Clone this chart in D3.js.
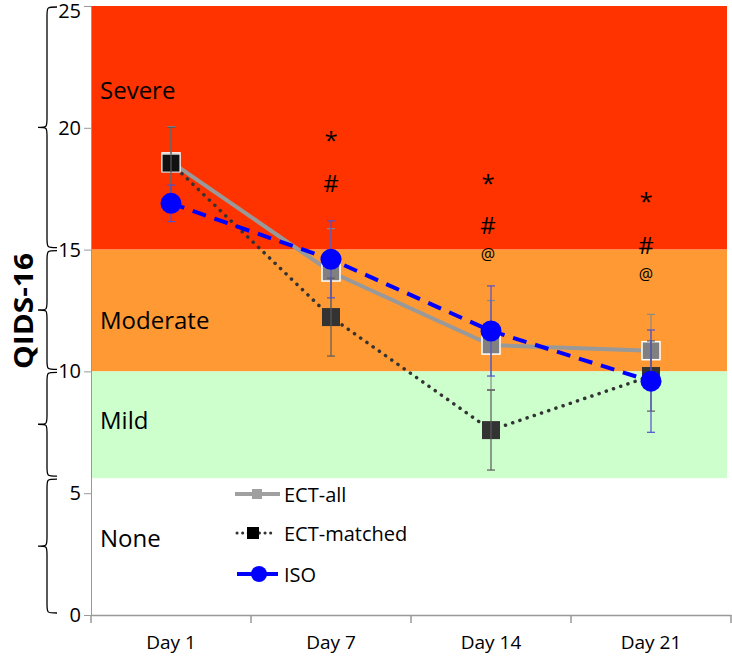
<!DOCTYPE html>
<html><head><meta charset="utf-8">
<script src="https://cdn.jsdelivr.net/npm/d3@7"></script>
<style>body{margin:0;background:#fff}svg{display:block}text{font-family:"Open Sans","Noto Sans",sans-serif}</style>
</head><body><svg id="c" width="732" height="659"></svg>
<script>
const days = ["Day 1", "Day 7", "Day 14", "Day 21"];
const yTicks = [0, 5, 10, 15, 20, 25];
const ectAll = [18.6, 14.08, 11.08, 10.85];
const ectAllErr = [1.45, 1.78, 1.83, 1.49];
const ectMatched = [18.55, 12.23, 7.59, 9.81];
const ectMatchedErr = [1.47, 1.6, 1.64, 1.44];
const iso = [16.9, 14.6, 11.66, 9.6];
const isoErr = [0.75, 1.58, 1.85, 2.1];
const bandNames = ["Severe", "Moderate", "Mild", "None"];
const bandTops = [25, 15, 10, 5.62];
const bandBottoms = [15, 10, 5.62, 0];
const bandColors = ["#ff3300", "#ff9933", "#ccffcc", "none"];
const annotDays = ["Day 7", "Day 7", "Day 14", "Day 14", "Day 14", "Day 21", "Day 21", "Day 21"];
const annotSymbols = ["*", "#", "*", "#", "@", "*", "#", "@"];
const annotValues = [19.5, 17.75, 17.75, 16.05, 14.8, 17.0, 15.2, 14.0];
const annotOffsets = [0, 0, -3, -3, -3, -5, -5, -5];

const svg = d3.select("#c");
const x = d3.scaleBand().domain(days).range([91, 731]);
const y = d3.scaleLinear().domain([0, 25]).range([615, 6]);
const cx = d => x(d) + x.bandwidth() / 2;

// bands
bandNames.forEach((n, i) => {
  if (bandColors[i] !== "none")
    svg.append("rect").attr("x", 91).attr("width", 727 - 91)
      .attr("y", y(bandTops[i])).attr("height", y(bandBottoms[i]) - y(bandTops[i]))
      .attr("fill", bandColors[i]);
});
const labelVals = [21.2, 11.75, 7.65, 2.78];
bandNames.forEach((n, i) => {
  svg.append("text").attr("x", 100).attr("y", y(labelVals[i])).attr("font-size", 24).attr("fill", "#000").text(n);
});

// braces
function brace(y1, y2) {
  const xr = 57, xm = 47, xt = 38, r = 9, ym = (y1 + y2) / 2;
  return `M${xr},${y1} C${xm},${y1} ${xm},${y1} ${xm},${y1 + r} L${xm},${ym - r} C${xm},${ym} ${xm},${ym} ${xt},${ym} C${xm},${ym} ${xm},${ym} ${xm},${ym + r} L${xm},${y2 - r} C${xm},${y2} ${xm},${y2} ${xr},${y2}`;
}
bandNames.forEach((n, i) => {
  svg.append("path").attr("d", brace(y(bandTops[i]) + 1, y(bandBottoms[i]) - 2))
    .attr("fill", "none").attr("stroke", "#000").attr("stroke-width", 1.3);
});

// axes
const yAx = svg.append("g").attr("transform", "translate(91,0)")
  .call(d3.axisLeft(y).tickValues(yTicks).tickSize(7).tickPadding(3));
yAx.select(".domain").attr("stroke", "#999");
yAx.selectAll(".tick line").attr("stroke", "#999");
yAx.selectAll("text").attr("font-size", 20).attr("fill", "#000")
  .attr("dy", d => d === 25 ? "0.55em" : "0.32em");
const xAx = svg.append("g").attr("transform", "translate(0,615)")
  .call(d3.axisBottom(x).tickSize(0).tickPadding(21));
xAx.select(".domain").attr("stroke", "#999").attr("stroke-width", 1.5);
xAx.selectAll("text").attr("font-size", 19).attr("fill", "#000");
[0, 1, 2, 3, 4].forEach(i => {
  const xx = 91 + i * x.step();
  svg.append("line").attr("x1", xx).attr("x2", xx).attr("y1", 615).attr("y2", 623).attr("stroke", "#999").attr("stroke-width", 1.5);
});
svg.append("text").attr("transform", `translate(33,311) rotate(-90)`).attr("text-anchor", "middle")
  .attr("font-size", 26).attr("font-weight", "bold").attr("textLength", 116).attr("lengthAdjust", "spacingAndGlyphs").text("QIDS-16");

// lines
const line = d3.line().x((d, i) => cx(days[i])).y(d => y(d));
svg.append("path").datum(ectAll).attr("d", line).attr("fill", "none").attr("stroke", "#999").attr("stroke-width", 4);
svg.append("path").datum(ectMatched).attr("d", line).attr("fill", "none").attr("stroke", "#333")
  .attr("stroke-width", 3.5).attr("stroke-linecap", "round").attr("stroke-dasharray", "0.1 7.5");
svg.append("path").datum(iso).attr("d", line).attr("fill", "none").attr("stroke", "#0000ff")
  .attr("stroke-width", 4).attr("stroke-dasharray", "14 9");

// markers squares
svg.selectAll(".sqa").data(ectAll).join("rect")
  .attr("x", (d, i) => cx(days[i]) - 9).attr("y", d => y(d) - 9).attr("width", 18).attr("height", 18)
  .attr("fill", "#808080").attr("stroke", "#fff").attr("stroke-width", 1.5);

// error bars
function errBars(vals, errs, color) {
  vals.forEach((v, i) => {
    const xx = cx(days[i]);
    const g = svg.append("g").attr("stroke", color).attr("stroke-width", 1.2);
    g.append("line").attr("x1", xx).attr("x2", xx).attr("y1", y(v + errs[i])).attr("y2", y(v - errs[i]));
    [v + errs[i], v - errs[i]].forEach(e => g.append("line").attr("x1", xx - 4).attr("x2", xx + 4).attr("y1", y(e)).attr("y2", y(e)));
  });
}
errBars(ectAll, ectAllErr, "#8a8a8a");

svg.selectAll(".sqm").data(ectMatched).join("rect")
  .attr("x", (d, i) => cx(days[i]) - 9).attr("y", d => y(d) - 9).attr("width", 18).attr("height", 18)
  .attr("fill", (d, i) => i === 0 ? "#111" : "#333").attr("stroke", (d, i) => i === 0 ? "#ddd" : "none").attr("stroke-width", 1.2);
errBars(ectMatched, ectMatchedErr, "#5a5a5a");
errBars(iso, isoErr, "#5050cc");

svg.selectAll(".ci").data(iso).join("circle")
  .attr("cx", (d, i) => cx(days[i])).attr("cy", d => y(d)).attr("r", 10.5).attr("fill", "#0000ff");

// annotations
annotSymbols.forEach((s, i) => {
  svg.append("text").attr("x", cx(annotDays[i]) + annotOffsets[i]).attr("y", y(annotValues[i]))
    .attr("text-anchor", "middle").attr("dominant-baseline", "central")
    .attr("font-size", s === "@" ? 16 : 24).text(s);
});

// legend
const legNames = ["ECT-all", "ECT-matched", "ISO"];
const legY = [494, 533, 574];
svg.append("line").attr("x1", 235).attr("x2", 280).attr("y1", legY[0]).attr("y2", legY[0]).attr("stroke", "#a0a0a0").attr("stroke-width", 4);
svg.append("rect").attr("x", 252).attr("y", legY[0] - 5).attr("width", 10).attr("height", 10).attr("fill", "#a0a0a0");
svg.append("line").attr("x1", 237).attr("x2", 271).attr("y1", legY[1]).attr("y2", legY[1]).attr("stroke", "#333")
  .attr("stroke-width", 3).attr("stroke-linecap", "round").attr("stroke-dasharray", "0.1 5.5");
svg.append("rect").attr("x", 247).attr("y", legY[1] - 6).attr("width", 12).attr("height", 12).attr("fill", "#000");
svg.append("line").attr("x1", 237).attr("x2", 278).attr("y1", legY[2]).attr("y2", legY[2]).attr("stroke", "#0000ff").attr("stroke-width", 4);
svg.append("circle").attr("cx", 259).attr("cy", legY[2]).attr("r", 8).attr("fill", "#0000ff");
legNames.forEach((n, i) => {
  svg.append("text").attr("x", 284).attr("y", legY[i]).attr("dominant-baseline", "central").attr("font-size", 20).text(n);
});
</script></body></html>
